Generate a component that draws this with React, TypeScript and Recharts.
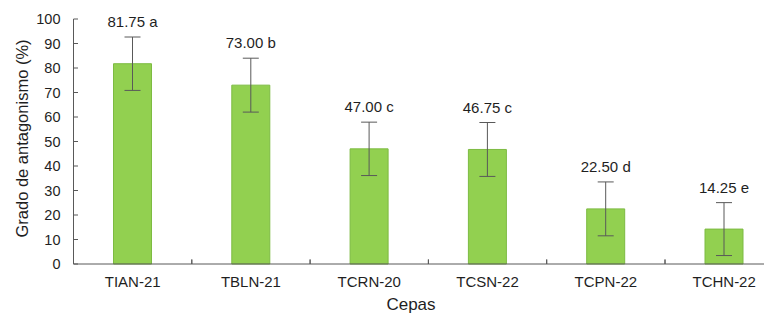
import React from 'react';
import { BarChart, Bar, XAxis, YAxis, ErrorBar, LabelList, Label } from 'recharts';

const cepas = ['TIAN-21', 'TBLN-21', 'TCRN-20', 'TCSN-22', 'TCPN-22', 'TCHN-22'];
const antagonismo = [81.75, 73.0, 47.0, 46.75, 22.5, 14.25];
const errores = [10.9, 11.0, 10.9, 11.0, 11.0, 10.8];
const letras = ['a', 'b', 'c', 'c', 'd', 'e'];
const yTicks = [0, 10, 20, 30, 40, 50, 60, 70, 80, 90, 100];

const data = cepas.map((c, i) => ({ cepa: c, valor: antagonismo[i], err: errores[i], letra: letras[i] }));

const W = 790;
const H = 325;
const MARGIN = { top: 19, right: 6.7, bottom: 0, left: 0 };
const Y_AXIS_W = 73.5;
const X_AXIS_H = 61;
const BAND = (W - MARGIN.left - MARGIN.right - Y_AXIS_W) / cepas.length;
const FONT = '"Liberation Sans", Arial, sans-serif';
const AXIS = '#595959';
const TEXT = '#1f1f1f';

const YTick = (props: any) => {
  const { x, y, payload } = props;
  return (
    <g>
      <line x1={x} x2={x + 4.5} y1={y} y2={y} stroke={AXIS} strokeWidth={1} />
      <text x={x - 13} y={y} textAnchor="end" dominantBaseline="central" fontSize={14.5} fontFamily={FONT} fill={TEXT}>
        {payload.value}
      </text>
    </g>
  );
};

const XTick = (props: any) => {
  const { x, y, payload, index } = props;
  const left = x - BAND / 2;
  const right = x + BAND / 2;
  return (
    <g>
      {index > 0 && <line x1={left} x2={left} y1={y} y2={y - 4.5} stroke={AXIS} strokeWidth={1} />}
      <line x1={right} x2={right} y1={y} y2={y - 4.5} stroke={AXIS} strokeWidth={1} />
      <text x={x} y={y + 17.5} textAnchor="middle" dominantBaseline="central" fontSize={15} fontFamily={FONT} fill={TEXT}>
        {payload.value}
      </text>
    </g>
  );
};

const BarLabel = (props: any) => {
  const { x, y, width, height, index } = props;
  const v = antagonismo[index];
  const pxPerUnit = height / v;
  const errTop = y - errores[index] * pxPerUnit;
  return (
    <text x={x + width / 2} y={errTop - 15.5} textAnchor="middle" dominantBaseline="central" fontSize={15} fontFamily={FONT} fill={TEXT}>
      {`${v.toFixed(2)} ${letras[index]}`}
    </text>
  );
};

const YTitle = (props: any) => {
  const { viewBox } = props;
  const cx = viewBox.x + 22;
  const cy = viewBox.y + viewBox.height / 2 - 3;
  return (
    <text x={cx} y={cy} transform={`rotate(-90, ${cx}, ${cy})`} textAnchor="middle" dominantBaseline="central" fontSize={16.5} fontFamily={FONT} fill={TEXT}>
      Grado de antagonismo (%)
    </text>
  );
};

const XTitle = (props: any) => {
  const { viewBox } = props;
  const cx = 411;
  const cy = viewBox.y + 40;
  return (
    <text x={cx} y={cy} textAnchor="middle" dominantBaseline="central" fontSize={17} fontFamily={FONT} fill={TEXT}>
      Cepas
    </text>
  );
};

export default function App() {
  return (
    <div style={{ width: 772, height: 325, overflow: 'hidden', margin: '-8px 0 0 -8px', background: '#fff' }}>
      <BarChart width={W} height={H} data={data} margin={MARGIN} barCategoryGap={0}>
        <XAxis
          dataKey="cepa"
          height={X_AXIS_H}
          tickSize={0}
          tickMargin={0}
          tickLine={false}
          axisLine={{ stroke: AXIS, strokeWidth: 1 }}
          tick={<XTick />}
          interval={0}
        >
          <Label content={<XTitle />} />
        </XAxis>
        <YAxis
          width={Y_AXIS_W}
          domain={[0, 100]}
          ticks={yTicks}
          tickSize={0}
          tickMargin={0}
          tickLine={false}
          axisLine={{ stroke: AXIS, strokeWidth: 1 }}
          tick={<YTick />}
          interval={0}
        >
          <Label content={<YTitle />} />
        </YAxis>
        <Bar dataKey="valor" fill="#92D050" stroke="#7DBB42" strokeWidth={1} barSize={38} isAnimationActive={false}>
          <ErrorBar dataKey="err" width={8} stroke={AXIS} strokeWidth={1} direction="y" />
          <LabelList dataKey="valor" content={<BarLabel />} />
        </Bar>
      </BarChart>
    </div>
  );
}
